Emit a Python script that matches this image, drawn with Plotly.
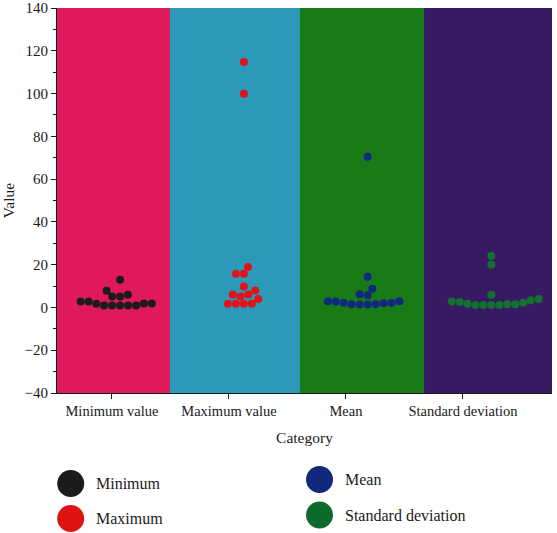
import numpy as np
import plotly.graph_objects as go

# ---------------- data ----------------
categories = ["Minimum value", "Maximum value", "Mean", "Standard deviation"]
series_names = ["Minimum", "Maximum", "Mean", "Standard deviation"]
minimum_values = [2.8, 1.9, 1.7, 0.9, 0.9, 0.9, 0.9, 0.9, 1.9, 2.8, 5.1, 5.1, 5.9, 7.8, 12.9]
maximum_values = [114.7, 99.9, 18.9, 15.7, 15.7, 9.8, 6.0, 6.0, 7.9, 5.1, 1.7, 1.7, 1.7, 1.7, 3.9]
mean_values = [70.5, 14.4, 8.7, 6.2, 5.7, 2.9, 2.2, 1.5, 1.4, 1.4, 1.5, 2.0, 2.2, 2.8, 2.9]
sd_values = [24.0, 20.0, 5.9, 3.9, 3.4, 2.2, 1.5, 1.2, 1.1, 1.1, 1.1, 1.5, 1.7, 2.6, 2.8]
y_ticks = [-40, -20, 0, 20, 40, 60, 80, 100, 120, 140]

# ---------------- styles ----------------
band_colors = ["#E0195B", "#2B9AB8", "#197A18", "#371A62"]
marker_colors = ["#1C1C1C", "#E0121A", "#11297C", "#127030"]
legend_colors = ["#1B1B1B", "#E01212", "#10297A", "#0C6B2C"]
FONT = "Liberation Serif"

W, H = 557, 533
ML, MR, MT, MB = 57, 5, 8, 0
plot_w = W - ML - MR
plot_h = H - MT - MB
main_bottom_px = 393
y_dom0 = (H - main_bottom_px) / plot_h

x_tick_range = [-0.47, 3.761]      # axis that carries category ticks / bands
x_pts_range = [-0.51, 3.49]        # axis that carries the swarm points
y_range = [-40, 140]
band_edges = [-0.47, 0.496, 1.607, 2.667, 3.761]
DIAM = 8.0

px_per_x = plot_w / (x_pts_range[1] - x_pts_range[0])
px_per_y = (main_bottom_px - MT) / (y_range[1] - y_range[0])


def swarm_offsets(values):
    vals = np.asarray(values, dtype=float)
    order = np.argsort(vals, kind="stable")
    placed = []
    offs = np.zeros(len(vals))
    for i in order:
        y = vals[i] * px_per_y
        cands = [0.0]
        for (px, py) in placed:
            dy = abs(py - y)
            if dy < DIAM:
                dx = np.sqrt(DIAM ** 2 - dy ** 2)
                cands += [px + dx, px - dx]
        cands.sort(key=lambda c: (round(abs(c), 6), c))
        chosen = 0.0
        for c in cands:
            if all((c - px) ** 2 + (y - py) ** 2 >= DIAM ** 2 - 1e-6 for px, py in placed):
                chosen = c
                break
        placed.append((chosen, y))
        offs[i] = chosen / px_per_x
    return offs


fig = go.Figure()

all_series = [minimum_values, maximum_values, mean_values, sd_values]
for k, vals in enumerate(all_series):
    offs = swarm_offsets(vals)
    fig.add_trace(go.Scatter(
        x=k + offs, y=vals, mode="markers", xaxis="x2", yaxis="y",
        marker=dict(size=DIAM, color=marker_colors[k], line=dict(width=0)),
        name=series_names[k], showlegend=False, hoverinfo="y", cliponaxis=False))

# background bands
for k in range(len(categories)):
    fig.add_shape(type="rect", xref="x", yref="y",
                  x0=band_edges[k], x1=band_edges[k + 1], y0=y_range[0], y1=y_range[1],
                  fillcolor=band_colors[k], line=dict(width=0), layer="below")

# custom legend (large circles) on its own axes in pixel-like units
leg_x = [70.7, 70.7, 319.5, 319.5]
leg_y = [483.5, 518.5, 479.5, 515.0]
fig.add_trace(go.Scatter(
    x=leg_x, y=leg_y, mode="markers", xaxis="x3", yaxis="y3",
    marker=dict(size=27, color=legend_colors, line=dict(width=0)),
    showlegend=False, hoverinfo="skip", cliponaxis=False))
for k in range(4):
    fig.add_annotation(x=leg_x[k] + 23, y=leg_y[k], xref="x3", yref="y3",
                       text=series_names[k], showarrow=False, xanchor="left",
                       yanchor="middle", font=dict(family=FONT, size=16, color="#1a1a1a"))

fig.update_layout(
    width=W, height=H,
    margin=dict(l=ML, r=MR, t=MT, b=MB, pad=0, autoexpand=False),
    paper_bgcolor="white", plot_bgcolor="white",
    font=dict(family=FONT, size=14, color="#1a1a1a"),
    showlegend=False,
    xaxis=dict(range=x_tick_range, tickvals=list(range(len(categories))), ticktext=categories,
               showline=True, linecolor="#1a1a1a", linewidth=1, ticks="outside", ticklen=5,
               tickcolor="#1a1a1a", showgrid=False, zeroline=False, anchor="y",
               automargin=False,
               title=dict(text="Category", font=dict(size=15.5), standoff=13),
               tickfont=dict(size=14.5)),
    xaxis2=dict(range=x_pts_range, overlaying="x", anchor="y", visible=False),
    yaxis=dict(range=y_range, domain=[y_dom0, 1], tickvals=y_ticks, showline=True,
               linecolor="#1a1a1a", linewidth=1, ticks="outside", ticklen=5,
               tickcolor="#1a1a1a", showgrid=False, zeroline=False, automargin=False,
               ticklabeloverflow="allow",
               minor=dict(dtick=10, ticks="outside", ticklen=3, tickcolor="#1a1a1a"),
               title=dict(text="Value", font=dict(size=15.5), standoff=6),
               tickfont=dict(size=15)),
    xaxis3=dict(domain=[0, 1], range=[ML, W - MR], anchor="y3", visible=False),
    yaxis3=dict(domain=[0, y_dom0 - 0.01], range=[H, main_bottom_px + 0.01 * plot_h],
                anchor="x3", visible=False),
)

fig.write_html("out.html", config={"displayModeBar": False},
               post_script="document.body.style.margin='0';document.body.style.padding='0';")
